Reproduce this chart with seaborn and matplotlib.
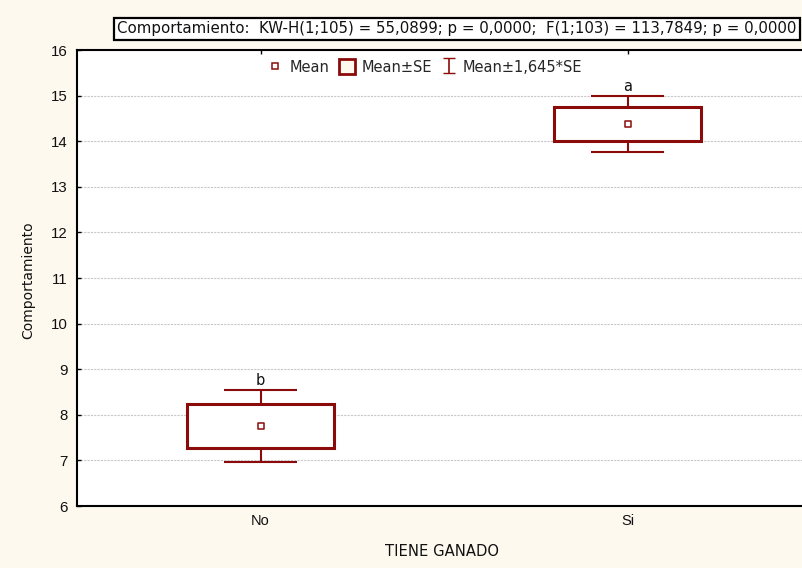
import numpy as np
import pandas as pd
import matplotlib
matplotlib.use("Agg")
import matplotlib.pyplot as plt
from matplotlib.patches import Patch
from matplotlib.lines import Line2D
import seaborn as sns

# Data
groups = ["No", "Si"]
means = [7.75, 14.38]
se = [0.48, 0.37]
letters = ["b", "a"]
z = 1.645
title_text = "Comportamiento:  KW-H(1;105) = 55,0899; p = 0,0000;  F(1;103) = 113,7849; p = 0,0000"
xlabel = "TIENE GANADO"
ylabel = "Comportamiento"
yticks = [6, 7, 8, 9, 10, 11, 12, 13, 14, 15, 16]

df = pd.DataFrame({"group": groups, "mean": means, "se": se, "letter": letters})
df["lo_se"] = df["mean"] - df["se"]
df["hi_se"] = df["mean"] + df["se"]
df["lo_z"] = df["mean"] - z * df["se"]
df["hi_z"] = df["mean"] + z * df["se"]

sns.set_style("white")
plt.rcParams["font.family"] = ["Liberation Sans", "DejaVu Sans"]
wide = ["DejaVu Sans"]

dr = "#8B0A0A"
bg = "#FDF9EE"

fig = plt.figure(figsize=(8.03, 5.68), dpi=100, facecolor=bg)
ax = fig.add_axes([77 / 803, 62 / 568, 1 - 77 / 803 + 0.01, 456 / 568])
ax.set_facecolor("white")

pos = np.arange(len(groups))
bw = 0.4
cw = 0.2

# whiskers
ax.vlines(pos, df["hi_se"], df["hi_z"], color=dr, lw=1.5, zorder=2)
ax.vlines(pos, df["lo_z"], df["lo_se"], color=dr, lw=1.5, zorder=2)
ax.hlines(df["hi_z"], pos - cw / 2, pos + cw / 2, color=dr, lw=1.5, zorder=2)
ax.hlines(df["lo_z"], pos - cw / 2, pos + cw / 2, color=dr, lw=1.5, zorder=2)
# boxes
ax.bar(pos, 2 * df["se"], bottom=df["lo_se"], width=bw, facecolor="white",
       edgecolor=dr, linewidth=2.2, zorder=3)
# means
sns.scatterplot(x=pos, y=df["mean"], marker="s", s=22, facecolor="white",
                edgecolor=dr, linewidth=1.1, ax=ax, zorder=4, legend=False)

for p, hz, l in zip(pos, df["hi_z"], df["letter"]):
    ax.annotate(l, (p, hz), xytext=(0, 1.5), textcoords="offset points",
                ha="center", va="bottom", fontsize=10.5, color="#111111", family=wide)

ax.set_xlim(-0.5, 1.5)
ax.set_ylim(6, 16)
ax.set_xticks(pos)
ax.set_xticklabels(groups, fontsize=10.5)
ax.set_yticks(yticks)
ax.set_yticklabels([str(t) for t in yticks], fontsize=10.8)
ax.tick_params(axis="both", direction="in", length=3, width=1, colors="black",
               labelcolor="#111111", pad=7)
ax.tick_params(axis="x", top=True, pad=6)
ax.tick_params(axis="y", left=True)
ax.yaxis.grid(True, linestyle=(0, (2, 1)), color="#c8c8c8", lw=0.8)
ax.set_axisbelow(True)
for s in ["left", "bottom", "top"]:
    ax.spines[s].set_color("black")
    ax.spines[s].set_linewidth(1.5)
ax.spines["right"].set_visible(False)

ax.set_xlabel(xlabel, fontsize=10.6, color="#111111", family=wide, va="center")
ax.xaxis.set_label_coords((438 - 77) / 726, -(552 - 506) / 456)
ax.set_ylabel(ylabel, fontsize=10, color="#111111", family=wide, va="center")
ax.yaxis.set_label_coords((29 - 77) / 726, (506 - 280) / 456)

# Title box
fig.text(457 / 803, 1 - 29 / 568, title_text, ha="center", va="center", fontsize=10.8,
         color="#111111", family=wide,
         bbox=dict(boxstyle="square,pad=0.24", facecolor="white", edgecolor="black", lw=1.6))

# Legend
eb = ax.errorbar([np.nan], [np.nan], yerr=[1], fmt="none", ecolor=dr, capsize=4, elinewidth=1.2)
handles = [
    Line2D([], [], marker="s", linestyle="none", markersize=5, markerfacecolor="white",
           markeredgecolor=dr, markeredgewidth=1.1),
    Patch(facecolor=bg, edgecolor=dr, linewidth=2),
    eb,
]
labels = ["Mean", "Mean±SE", "Mean±1,645*SE"]
fig.legend(handles, labels, loc="center", bbox_to_anchor=(425 / 803, 1 - 67 / 568), ncol=3,
           frameon=False, prop={"family": wide, "size": 10.5}, handlelength=1.1,
           handleheight=1.2, columnspacing=0.6, handletextpad=0.45)

fig.savefig("out.png", dpi=100, facecolor=bg)
